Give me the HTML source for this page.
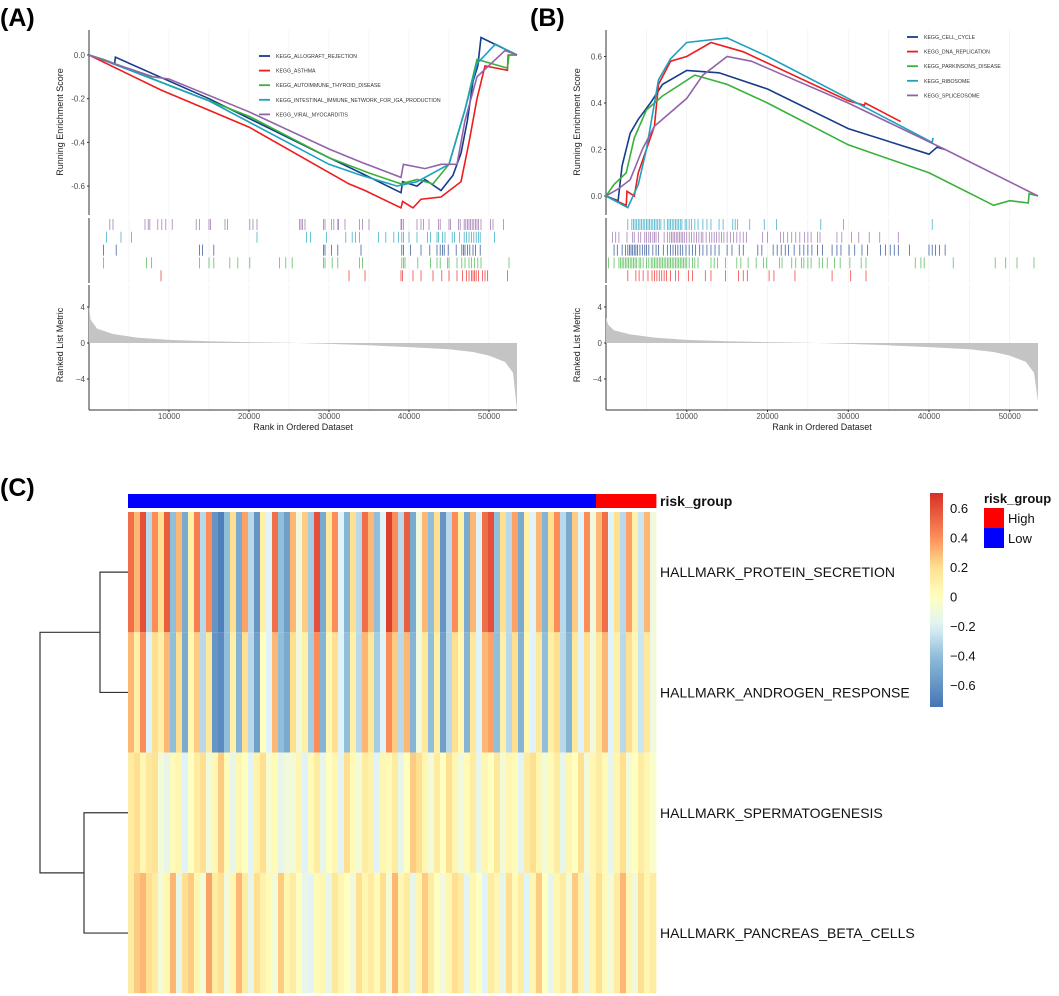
<!DOCTYPE html>
<html><head><meta charset="utf-8"><style>
html,body{margin:0;padding:0;background:#fff;}
svg{display:block;font-family:"Liberation Sans",Arial,sans-serif;}
</style></head><body>
<svg id="fig" xmlns="http://www.w3.org/2000/svg" width="1059" height="996" viewBox="0 0 1059 996">
<text x="0" y="26" font-size="25" font-weight="bold">(A)</text>
<text x="530" y="26" font-size="25" font-weight="bold">(B)</text>
<text x="0" y="496" font-size="25" font-weight="bold">(C)</text>
<g id="gA"></g>
<g id="gB"></g>
<g id="gC"></g>
</svg>
<script>
// ---------- Panel A data ----------
const aNames = ["KEGG_ALLOGRAFT_REJECTION","KEGG_ASTHMA","KEGG_AUTOIMMUNE_THYROID_DISEASE","KEGG_INTESTINAL_IMMUNE_NETWORK_FOR_IGA_PRODUCTION","KEGG_VIRAL_MYOCARDITIS"];
const aAllograft = [[0,0],[3200,-0.04],[3300,-0.01],[15000,-0.2],[30000,-0.47],[34000,-0.54],[39000,-0.63],[39200,-0.58],[41000,-0.6],[42000,-0.57],[44000,-0.62],[45500,-0.55],[46500,-0.45],[47300,-0.3],[48000,-0.12],[48600,-0.05],[49000,0.08],[53500,0]];
const aAsthma = [[0,0],[9000,-0.16],[20000,-0.33],[32500,-0.59],[34500,-0.62],[39000,-0.7],[39200,-0.67],[40500,-0.7],[41500,-0.66],[44000,-0.65],[46500,-0.58],[47500,-0.4],[48500,-0.2],[49500,-0.05],[52300,-0.07],[52400,0],[53500,0]];
const aThyroid = [[0,0],[1800,-0.02],[7500,-0.1],[8000,-0.11],[20000,-0.28],[30000,-0.47],[35000,-0.54],[39000,-0.59],[41000,-0.57],[43000,-0.59],[45000,-0.5],[47000,-0.25],[48500,-0.02],[52300,-0.06],[52500,0],[53500,0]];
const aIga = [[0,0],[2300,-0.03],[15000,-0.21],[30000,-0.5],[34000,-0.55],[38500,-0.6],[41000,-0.58],[45000,-0.5],[47000,-0.25],[48500,-0.04],[50800,0.05],[53500,0]];
const aViral = [[0,0],[8000,-0.1],[10000,-0.11],[20000,-0.26],[30000,-0.43],[34000,-0.49],[39000,-0.56],[39300,-0.5],[42000,-0.52],[44000,-0.5],[46000,-0.5],[47000,-0.3],[48500,-0.1],[52000,0.02],[53500,0]];
const aRugViral = [2600,3000,7000,7400,7600,8600,9100,9600,10400,13400,13800,15000,15200,17000,17300,20100,20500,21000,26300,26500,26700,27000,29300,29500,30300,30600,31100,31200,32000,33800,34200,35000,39000,39100,39300,41000,41500,41800,42500,43700,43900,45000,45200,46200,46400,46900,47100,47300,47500,47700,47900,48100,48300,48500,48700,49000,50200,50500,51800];
const aRugIga = [2200,4000,5300,21000,27200,27700,29700,32100,32900,33300,33800,36200,37100,38100,38700,39100,39300,40000,41000,42300,42700,43500,43700,44200,44500,45400,45700,46300,46900,47200,47500,47800,48100,48400,48700,48900,50700];
const aRugAllo = [1800,3400,13800,14200,15600,29300,29500,30300,31100,34000,39100,39300,40200,41500,42600,43500,43900,44200,44400,44900,45900,46600,46800,47000,47300,47600,48000,48300,48900];
const aRugThy = [1800,7200,7800,13800,15000,15600,17600,18600,20100,23800,24600,25400,29300,29500,30400,31100,33800,34200,39100,39300,39500,41100,42700,43500,43900,44800,45000,46000,46600,47000,47500,47800,48200,48600,49000,52500];
const aRugAsthma = [9000,32500,34500,39000,39200,40500,41500,43000,44100,45000,46000,46700,47200,47500,47800,48000,48200,48400,48700,49200,49500,49800,52300];
const aMetric = [[0,4.2],[200,2.6],[1000,1.6],[3000,1.0],[6000,0.6],[10000,0.35],[15000,0.2],[20000,0.1],[25000,0.02],[30000,-0.1],[35000,-0.25],[40000,-0.45],[45000,-0.7],[48000,-1.0],[50000,-1.4],[52000,-2.1],[53000,-3.3],[53500,-7.4]];

// ---------- Panel B data ----------
const bNames = ["KEGG_CELL_CYCLE","KEGG_DNA_REPLICATION","KEGG_PARKINSONS_DISEASE","KEGG_RIBOSOME","KEGG_SPLICEOSOME"];
const bCell = [[0,0],[1500,-0.02],[2000,0.13],[3000,0.27],[4000,0.33],[5500,0.4],[7000,0.48],[10000,0.54],[14000,0.53],[20000,0.46],[30000,0.29],[40000,0.18],[41000,0.21],[42000,0.2]];
const bDna = [[0,0],[2500,-0.04],[2600,0.02],[3500,0],[4000,0.1],[6000,0.3],[6500,0.48],[8000,0.58],[10000,0.6],[13000,0.66],[17000,0.62],[30000,0.41],[32000,0.39],[32100,0.4],[36500,0.32]];
const bPark = [[0,0],[1000,0.05],[2500,0.1],[3500,0.25],[5000,0.37],[7000,0.43],[11000,0.52],[15000,0.48],[20000,0.4],[30000,0.22],[40000,0.1],[48000,-0.04],[50000,-0.02],[52300,-0.03],[52400,0.01],[53500,0]];
const bRibo = [[0,0],[2700,-0.05],[4000,0.05],[5000,0.2],[6500,0.5],[8000,0.59],[10000,0.66],[15000,0.68],[20000,0.6],[30000,0.42],[40400,0.23],[40500,0.25]];
const bSplice = [[0,0],[1500,0.03],[3000,0.07],[4500,0.2],[6000,0.3],[10000,0.42],[12000,0.52],[15000,0.6],[18000,0.58],[30000,0.4],[42000,0.2],[53500,0]];
const bRugRibo = [2700,3200,3400,3600,3800,4000,4200,4400,4600,4800,5000,5200,5400,5600,5800,6000,6200,6400,6600,6800,7200,7600,7800,8000,8200,8400,8600,8800,9000,9200,9400,9800,10000,10300,10600,11000,11400,12000,12500,13000,14000,14500,15700,16000,16300,17800,19600,21100,26600,29400,40400];
const bRugSplice = [800,1200,1600,2600,3300,3500,4000,4300,4800,5000,5300,5500,5800,6000,6200,6500,7200,7600,7900,8100,8300,8500,8700,8900,9100,9300,9500,9700,10000,10300,10600,10900,11200,11500,11800,12000,12400,12800,13100,13400,13700,14000,14300,14600,15000,15400,15800,16200,16600,17000,17400,19400,20000,21600,22000,22500,23000,23500,24000,24600,25000,25400,26200,26500,28600,29200,30400,31300,32600,33900,36200];
const bRugCell = [1000,1400,2000,2400,2700,2900,3100,3300,3500,3700,3900,4200,4500,4800,5000,5300,5800,6200,6500,7100,7600,8000,8300,8600,8900,9200,9500,9900,10300,10700,11100,11600,12000,12500,13000,13500,14000,15000,15600,16500,17000,18800,19300,20700,21200,21700,22200,22600,23300,24000,24500,25000,25500,26200,26800,28000,28600,29100,30100,30800,31700,32400,34000,34600,35200,35700,36200,37600,40000,40400,40800,41300,42000];
const bRugPark = [300,1000,1600,1800,2000,2200,2400,2600,2800,3000,3200,3400,3600,3800,4100,4300,4600,5000,5300,5600,5800,6000,6200,6400,6600,6800,7000,7200,7400,7600,7800,8000,8200,8400,8600,8800,9000,9200,9400,9600,9800,10000,10300,10700,11000,11400,13000,13400,13800,14800,16200,16700,17600,18600,19500,19900,21500,21800,23000,23500,24200,24500,25000,25400,26400,26800,27400,28300,29000,30200,31600,32200,38300,39000,39400,43000,48200,49500,50900,53000];
const bRugDna = [2700,3700,4100,4600,5200,5700,6000,6300,6600,6900,7200,7500,8000,8600,9000,10200,10700,12300,13000,14800,16400,17000,17500,20200,20800,23400,28000,30300,32200];
const bMetric = [[0,2.8],[300,2.0],[1000,1.4],[3000,0.95],[6000,0.6],[10000,0.35],[15000,0.2],[20000,0.1],[25000,0.02],[30000,-0.1],[35000,-0.25],[40000,-0.45],[45000,-0.7],[48000,-1.0],[50000,-1.4],[52000,-2.1],[53000,-3.3],[53500,-6.5]];

// ---------- Panel C data ----------
const rowNames = ["HALLMARK_PROTEIN_SECRETION","HALLMARK_ANDROGEN_RESPONSE","HALLMARK_SPERMATOGENESIS","HALLMARK_PANCREAS_BETA_CELLS"];
const rowProtein = [0.5,0.3,0.6,-0.3,0.4,0.2,0.55,-0.4,0.3,-0.5,0.1,0.45,-0.3,0.4,-0.6,-0.7,-0.4,0.2,-0.5,0.35,-0.3,-0.6,0.1,-0.2,0.5,-0.4,-0.55,0.3,-0.1,0.25,-0.35,0.6,-0.5,0.15,0.4,-0.2,-0.45,0.2,-0.3,0.5,0.3,-0.4,-0.2,0.65,0.4,-0.3,0.55,-0.5,-0.1,0.3,-0.4,0.2,-0.6,-0.3,0.4,0.1,-0.5,0.3,-0.2,0.5,0.6,-0.4,0.2,-0.3,0.35,-0.5,0.1,-0.2,0.3,-0.45,0.2,0.4,-0.3,-0.5,0.25,-0.2,0.4,-0.1,0.3,0.5,-0.2,0.2,-0.3,0.35,0.1,-0.25,0.3,-0.1];
const rowAndrogen = [0.3,0.1,0.4,-0.2,0.2,0.1,0.3,-0.4,0.2,-0.5,0.05,0.25,-0.3,0.15,-0.6,-0.65,-0.4,0.1,-0.45,0.2,-0.3,-0.55,0.0,-0.2,0.3,-0.4,-0.5,0.2,-0.1,0.1,-0.35,0.4,-0.45,0.05,0.2,-0.2,-0.4,0.1,-0.3,0.3,0.15,-0.35,-0.2,0.4,0.25,-0.3,0.3,-0.45,-0.1,0.15,-0.4,0.1,-0.55,-0.3,0.2,0.05,-0.45,0.15,-0.2,0.3,0.35,-0.4,0.1,-0.3,0.2,-0.45,0.05,-0.2,0.15,-0.4,0.1,0.2,-0.3,-0.45,0.15,-0.2,0.2,-0.1,0.15,0.3,-0.2,0.1,-0.3,0.2,0.05,-0.25,0.15,-0.1];
const rowSperm = [0.12,0.2,0.05,0.15,0.18,-0.08,-0.15,0.03,0.06,-0.2,0.0,0.12,0.2,-0.1,0.05,0.25,0.03,-0.15,0.06,0.0,-0.18,0.08,0.2,-0.06,0.03,-0.15,-0.1,-0.08,0.06,-0.2,0.03,0.12,-0.15,0.0,0.06,-0.18,0.2,0.03,-0.08,0.12,0.08,-0.2,0.06,0.03,0.12,-0.15,0.0,0.25,0.2,0.06,-0.08,0.12,0.0,0.2,0.06,-0.1,0.03,0.12,-0.15,0.06,0.0,0.15,-0.08,0.06,0.03,-0.18,0.12,0.2,0.06,-0.08,0.03,0.12,-0.15,0.06,0.0,0.2,-0.1,0.06,0.12,0.03,-0.15,0.06,0.2,-0.08,0.0,0.12,0.06,-0.04];
const rowPancreas = [0.12,0.25,0.3,0.2,0.12,-0.08,0.06,0.3,-0.15,0.2,0.25,0.06,-0.08,0.35,0.12,0.2,-0.1,0.06,0.3,0.12,-0.15,0.2,0.08,0.03,-0.08,0.25,0.06,0.12,0.0,-0.15,-0.18,0.03,0.06,-0.15,0.15,0.06,0.0,-0.1,0.2,0.06,0.12,0.03,0.2,-0.08,0.3,0.06,0.12,-0.15,0.06,0.25,0.12,0.0,-0.1,0.06,0.2,0.12,-0.18,0.06,0.0,-0.2,0.12,0.06,-0.15,0.2,0.03,0.12,-0.2,0.06,0.25,0.0,-0.15,0.06,0.12,-0.08,0.25,0.08,-0.15,0.06,0.2,0.03,-0.08,0.12,0.3,0.06,-0.1,0.2,0.06,0.12];
const riskGroup = ["L","L","L","L","L","L","L","L","L","L","L","L","L","L","L","L","L","L","L","L","L","L","L","L","L","L","L","L","L","L","L","L","L","L","L","L","L","L","L","L","L","L","L","L","L","L","L","L","L","L","L","L","L","L","L","L","L","L","L","L","L","L","L","L","L","L","L","L","L","L","L","L","L","L","L","L","L","L","H","H","H","H","H","H","H","H","H","H"];
const legendTicks = [0.6,0.4,0.2,0,-0.2,-0.4,-0.6];

const NS = "http://www.w3.org/2000/svg";
function mk(parent, tag, attrs, text){
  const e = document.createElementNS(NS, tag);
  for (const k in attrs) e.setAttribute(k, attrs[k]);
  if (text !== undefined) e.textContent = text;
  parent.appendChild(e);
  return e;
}
const colors = ["#173d8a","#ee1c1c","#38b13b","#1ea0c0","#9263a8"];

function gsea(g, cfg){
  const xs = r => cfg.x0 + (r/53500)*(cfg.x1 - cfg.x0);
  const ys = s => cfg.y0val - s*cfg.yPerUnit;
  const ym = v => 343 - v*9;
  for (let r = 5000; r <= 50000; r += 5000) {
    for (const [t,b] of [[30,215],[218,283],[285,410]]) {
      const l = mk(g,"line",{x1:xs(r),x2:xs(r),y1:t,y2:b,stroke:"#ececec","stroke-width":0.6});
      
      
    }
  }
  for (const [t,b] of [[30,215],[218,283],[285,410]]) {
    const l = mk(g,"line",{x1:cfg.x0,x2:cfg.x0,y1:t,y2:b,stroke:"#333","stroke-width":1});
    
    
  }
  const xa = mk(g,"line",{x1:cfg.x0,x2:cfg.x1,y1:410,y2:410,stroke:"#333","stroke-width":1});
  
  
  cfg.yTicks.forEach(v => {
    const t = mk(g,"text",{x:cfg.x0-4,y:ys(v)+3,"font-size":8,fill:"#4d4d4d","text-anchor":"end"}, v.toFixed(1));
    
    
    mk(g,"line",{x1:cfg.x0-2,x2:cfg.x0,y1:ys(v),y2:ys(v),stroke:"#333"});
  });
  [4,0,-4].forEach(v => {
    const t = mk(g,"text",{x:cfg.x0-4,y:ym(v)+3,"font-size":8,fill:"#4d4d4d","text-anchor":"end"}, v===-4?"\u22124":String(v));
    
    
    mk(g,"line",{x1:cfg.x0-2,x2:cfg.x0,y1:ym(v),y2:ym(v),stroke:"#333"});
  });
  [10000,20000,30000,40000,50000].forEach(r => {
    const t = mk(g,"text",{x:xs(r),y:419,"font-size":8,fill:"#4d4d4d","text-anchor":"middle"}, String(r));
    
    
    mk(g,"line",{x1:xs(r),x2:xs(r),y1:410,y2:412,stroke:"#333"});
  });
  const xt = mk(g,"text",{x:(cfg.x0+cfg.x1)/2,y:430,"font-size":9,fill:"#222","text-anchor":"middle"},"Rank in Ordered Dataset");
  
  
  const yt1 = mk(g,"text",{x:0,y:0,"font-size":9,fill:"#222","text-anchor":"middle",transform:`translate(${cfg.x0-26},122) rotate(-90)`},"Running Enrichment Score");
  
  
  const yt2 = mk(g,"text",{x:0,y:0,"font-size":9,fill:"#222","text-anchor":"middle",transform:`translate(${cfg.x0-26},345) rotate(-90)`},"Ranked List Metric");
  
  
  cfg.series.forEach((s,i) => {
    const p = mk(g,"polyline",{points:s.map(d=>xs(d[0]).toFixed(1)+","+ys(d[1]).toFixed(1)).join(" "),fill:"none",stroke:cfg.colors[i],"stroke-width":1.6,"stroke-linejoin":"miter"});
    
    
  });
  cfg.rugs.forEach((rug,i) => {
    const top = 219 + i*12.8;
    rug.list.forEach(r => {
      const l = mk(g,"line",{x1:xs(r),x2:xs(r),y1:top,y2:top+11,stroke:rug.color,"stroke-width":0.8,opacity:0.8});
      
      
    });
  });
  let d = `M${xs(0)},${ym(0)} ` + cfg.metric.map(m=>`L${xs(m[0]).toFixed(1)},${ym(m[1]).toFixed(1)}`).join(" ") + ` L${xs(53500)},${ym(0)} Z`;
  const a = mk(g,"path",{d:d,fill:"#c4c4c4",stroke:"none"});
  
  
  cfg.names.forEach((n,i) => {
    const y = cfg.legY + i*14.6;
    const l = mk(g,"line",{x1:cfg.legX,x2:cfg.legX+11,y1:y,y2:y,stroke:cfg.colors[i],"stroke-width":1.8});
    
    
    const t = mk(g,"text",{x:cfg.legX+17,y:y+2,"font-size":5.2,fill:"#333"},n);
    
    
  });
}

gsea(document.getElementById("gA"),{x0:89,x1:517,y0val:55,yPerUnit:218.5,yTicks:[0,-0.2,-0.4,-0.6],
  series:[aAllograft,aAsthma,aThyroid,aIga,aViral],colors:colors,names:aNames,legX:259,legY:56,
  rugs:[{list:aRugViral,color:"#9263a8"},{list:aRugIga,color:"#1ea0c0"},{list:aRugAllo,color:"#173d8a"},{list:aRugThy,color:"#38b13b"},{list:aRugAsthma,color:"#ee1c1c"}],
  metric:aMetric});
gsea(document.getElementById("gB"),{x0:606,x1:1038,y0val:196,yPerUnit:232.5,yTicks:[0.6,0.4,0.2,0],
  series:[bCell,bDna,bPark,bRibo,bSplice],colors:colors,names:bNames,legX:907,legY:37,
  rugs:[{list:bRugRibo,color:"#1ea0c0"},{list:bRugSplice,color:"#9263a8"},{list:bRugCell,color:"#173d8a"},{list:bRugPark,color:"#38b13b"},{list:bRugDna,color:"#ee1c1c"}],
  metric:bMetric});

const stops = [[-0.75,[69,117,180]],[-0.4,[145,191,219]],[-0.2,[224,243,248]],[0,[255,255,191]],[0.2,[254,224,144]],[0.4,[252,141,89]],[0.7,[215,48,39]]];
function col(v){
  if (v <= stops[0][0]) return `rgb(${stops[0][1]})`;
  for (let i=1;i<stops.length;i++){
    if (v <= stops[i][0]) {
      const t = (v - stops[i-1][0])/(stops[i][0]-stops[i-1][0]);
      const c = stops[i-1][1].map((a,k)=>Math.round(a+(stops[i][1][k]-a)*t));
      return `rgb(${c.join(",")})`;
    }
  }
  return `rgb(${stops[stops.length-1][1]})`;
}
const gC = document.getElementById("gC");
const hx0 = 128, hx1 = 656, hy0 = 512, rowH = 120.3;
const rows = [rowProtein,rowAndrogen,rowSperm,rowPancreas];
rows.forEach((row,ri) => {
  const w = (hx1-hx0)/row.length;
  row.forEach((v,ci) => {
    const r = mk(gC,"rect",{x:(hx0+ci*w).toFixed(2),y:(hy0+ri*rowH).toFixed(2),width:(w+0.4).toFixed(2),height:rowH.toFixed(2),fill:col(v)});
    
    
  });
  const t = mk(gC,"text",{x:660,y:hy0+ri*rowH+rowH/2+5,"font-size":14,fill:"#111"},rowNames[ri]);
  
  
});
{
  const w = (hx1-hx0)/riskGroup.length;
  riskGroup.forEach((g,ci) => {
    const r = mk(gC,"rect",{x:(hx0+ci*w).toFixed(2),y:494,width:(w+0.4).toFixed(2),height:14,fill:g==="H"?"#ff0000":"#0000ff"});
    
    
  });
  const t = mk(gC,"text",{x:660,y:506,"font-size":14,"font-weight":"bold",fill:"#111"},"risk_group");
  
  
}
const cy = ri => hy0 + ri*rowH + rowH/2;
const dend = mk(gC,"path",{fill:"none",stroke:"#333","stroke-width":1.2,
  d:`M128,${cy(0)} H100 V${cy(1)} H128 M128,${cy(2)} H84 V${cy(3)} H128 M100,${(cy(0)+cy(1))/2} H40 V${(cy(2)+cy(3))/2} H84`});


const defs = mk(gC,"defs",{});
const lg = mk(defs,"linearGradient",{id:"lgc",x1:0,y1:0,x2:0,y2:1});
for (let i=0;i<=20;i++){
  const v = 0.7 - i*(1.45/20);
  mk(lg,"stop",{offset:(i/20),"stop-color":col(v)});
}
const lgY0 = 493, lgY1 = 707;
const lv = v => lgY0 + (0.7 - v)/1.45*(lgY1-lgY0);
const bar = mk(gC,"rect",{x:930,y:lgY0,width:13,height:lgY1-lgY0,fill:"url(#lgc)"});


legendTicks.forEach(v => {
  const t = mk(gC,"text",{x:950,y:lv(v)+5,"font-size":13,fill:"#111"}, v===0?"0":(v<0?"\u2212"+Math.abs(v):String(v)));
  
  
});
{
  const t = mk(gC,"text",{x:984,y:503,"font-size":13,"font-weight":"bold",fill:"#111"},"risk_group");
  
  
  const r1 = mk(gC,"rect",{x:984,y:508,width:20,height:20,fill:"#ff0000"});
  
  
  const r2 = mk(gC,"rect",{x:984,y:528,width:20,height:20,fill:"#0000ff"});
  
  
  const t1 = mk(gC,"text",{x:1008,y:523,"font-size":13,fill:"#111"},"High");
  
  
  const t2 = mk(gC,"text",{x:1008,y:543,"font-size":13,fill:"#111"},"Low");
  
  
}
</script>
</body></html>
